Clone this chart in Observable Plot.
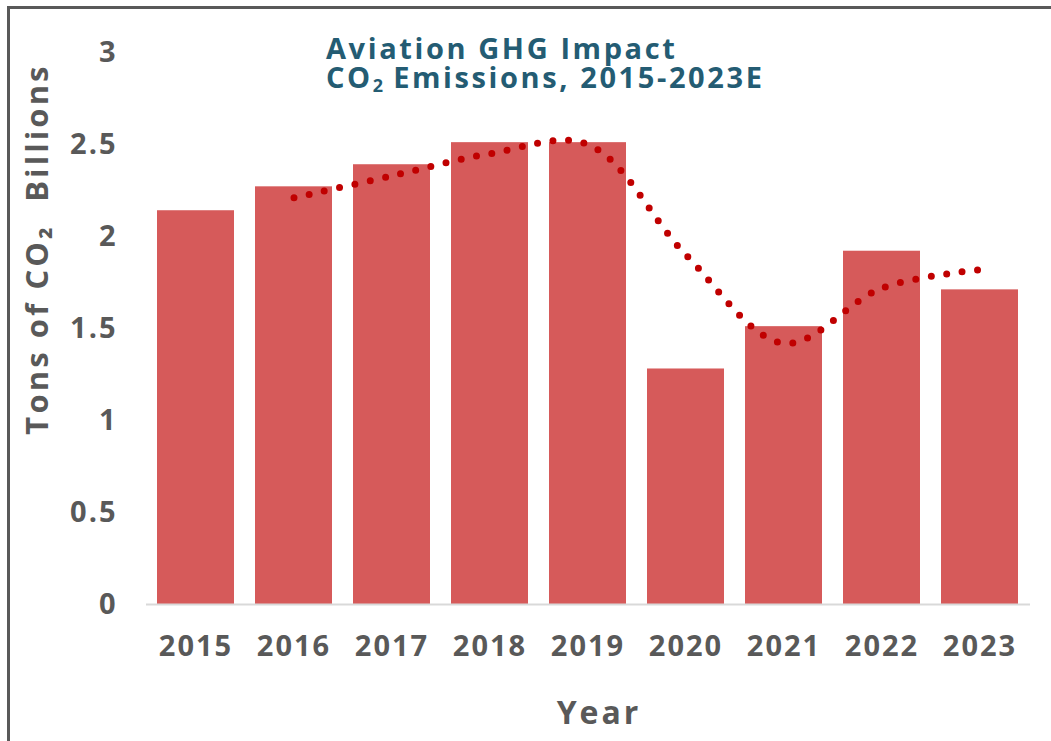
<!DOCTYPE html>
<html>
<head>
<meta charset="utf-8">
<script src="https://cdn.jsdelivr.net/npm/d3@7"></script>
<script src="https://cdn.jsdelivr.net/npm/@observablehq/plot@0.6"></script>
<style>
  html, body { margin: 0; padding: 0; background: #fff; }
  #wrap { position: relative; width: 1051px; height: 741px; overflow: hidden; background: #fff; font-family: "Open Sans", sans-serif; }
  #frame { position: absolute; left: 7px; top: 6px; width: 1100px; height: 800px; border-left: 3px solid #595959; border-top: 3px solid #595959; box-sizing: border-box; }
  .tl { position: absolute; left: 326px; color: #245C73; font-weight: 700; font-size: 29px; line-height: 28px; letter-spacing: 2.6px; white-space: nowrap; }
  .tl sub { font-size: 0.62em; vertical-align: -0.22em; line-height: 0; letter-spacing: 0; }
  #t1 { top: 34px; }
  #t2 { top: 63px; }
  #ylabel { position: absolute; left: 36px; top: 249px; transform: translate(-50%, -50%) rotate(-90deg); color: #595959; font-weight: 700; font-size: 31px; letter-spacing: 3.1px; white-space: pre; line-height: 34px; }
  #xlabel { position: absolute; left: 599px; top: 712px; transform: translate(-50%, -50%); color: #595959; font-weight: 700; font-size: 32px; letter-spacing: 3px; white-space: nowrap; line-height: 34px; }
  #chart { position: absolute; left: 0; top: 0; }
</style>
</head>
<body>
<div id="wrap">
  <div id="chart"></div>
  <div id="frame"></div>
  <div id="t1" class="tl">Aviation GHG Impact</div>
  <div id="t2" class="tl">CO<sub>2</sub> Emissions, 2015-2023E</div>
  <div id="ylabel">Tons of CO₂  Billions</div>
  <div id="xlabel">Year</div>
</div>
<script>
const years = ["2015", "2016", "2017", "2018", "2019", "2020", "2021", "2022", "2023"];
const emissions = [2.14, 2.27, 2.39, 2.51, 2.51, 1.28, 1.51, 1.92, 1.71];
const trendYears = ["2016", "2017", "2018", "2019", "2020", "2021", "2022", "2023"];
const trendValues = [2.21, 2.33, 2.45, 2.50, 1.90, 1.42, 1.72, 1.82];
const yTicks = [0, 0.5, 1, 1.5, 2, 2.5, 3];

const bars = years.map((year, i) => ({year, value: emissions[i]}));
const trend = trendYears.map((year, i) => ({year, value: trendValues[i]}));

const chart = Plot.plot({
  width: 1051,
  height: 741,
  marginLeft: 146,
  marginRight: 21,
  marginTop: 52,
  marginBottom: 137,
  style: {
    fontFamily: "'Open Sans', sans-serif",
    fontSize: "29px",
    fontWeight: 700,
    letterSpacing: "2px",
    color: "#595959",
    background: "transparent"
  },
  x: {domain: years, paddingInner: 0.21, paddingOuter: 0.11, label: null, tickSize: 0, tickPadding: 31},
  y: {domain: [0, 3], ticks: yTicks, tickFormat: d => String(d), label: null, tickSize: 0, tickPadding: 29},
  marks: [
    Plot.barY(bars, {x: "year", y: "value", fill: "#D65A5A"}),
    Plot.ruleY([0], {stroke: "#D9D9D9", strokeWidth: 2}),
    Plot.line(trend, {
      x: "year", y: "value", stroke: "#C00000", strokeWidth: 7,
      strokeLinecap: "round", strokeDasharray: "0 15.6", curve: "catmull-rom"
    })
  ]
});
document.getElementById("chart").appendChild(chart);
</script>
</body>
</html>
